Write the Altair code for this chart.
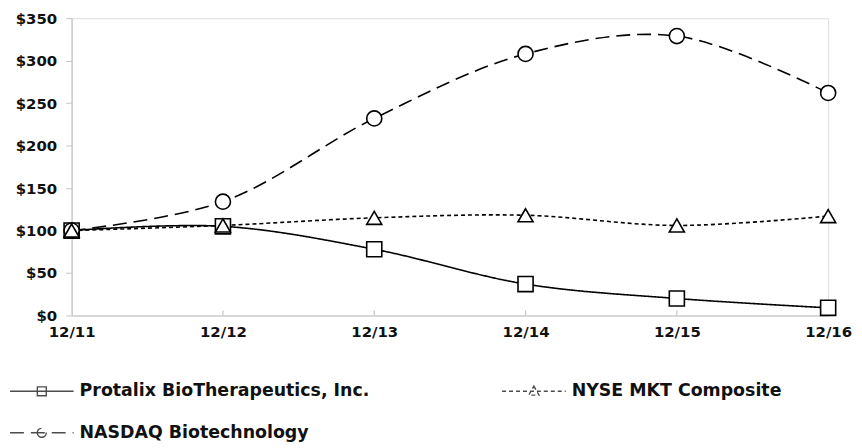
import altair as alt
import pandas as pd

periods = ["12/11", "12/12", "12/13", "12/14", "12/15", "12/16"]
series_names = ["Protalix BioTherapeutics, Inc.", "NASDAQ Biotechnology", "NYSE MKT Composite"]
protalix = [100, 105, 78, 37, 20, 9]
nasdaq = [100, 134, 232, 308, 329, 262]
nyse = [100, 106, 115, 118, 106, 117]
y_ticks = [0, 50, 100, 150, 200, 250, 300, 350]

rows = []
for name, vals in zip(series_names, [protalix, nasdaq, nyse]):
    for p, v in zip(periods, vals):
        rows.append({"period": p, "series": name, "value": v})
df = pd.DataFrame(rows)
tick_df = pd.DataFrame({"period": periods[1:]})

FONT = "DejaVu Sans"
AXIS_GRAY = "#c4c4c4"

x_scale = alt.Scale(type="point", padding=0, domain=periods)
y_scale = alt.Scale(domain=[0, 350], nice=False)

x_enc = alt.X("period:O", sort=periods, title=None, scale=x_scale,
              axis=alt.Axis(labelAngle=0, labelFont=FONT, labelFontWeight="bold",
                            labelFontSize=15, labelColor="#111", labelPadding=9,
                            domainColor=AXIS_GRAY, domainWidth=1.2, ticks=False,
                            grid=False))
y_enc = alt.Y("value:Q", title=None, scale=y_scale,
              axis=alt.Axis(values=y_ticks, format="$,.0f",
                            labelFont=FONT, labelFontWeight="bold", labelFontSize=15,
                            labelColor="#111", labelPadding=9,
                            domainColor=AXIS_GRAY, domainWidth=1.2,
                            tickColor=AXIS_GRAY, tickSize=6,
                            grid=False))

# order: Protalix, NASDAQ, NYSE
dash_range = [[1, 0], [14, 7], [4, 3]]
shape_range = ["square", "circle", "triangle-up"]
p_sq = "M-1,0H1M-0.14,-0.14H0.14V0.14H-0.14Z"
p_tri = "M-1,0H1M0,-0.16L0.16,0.12H-0.16Z"
p_cir = "M-1,0H1M-0.14,0A0.14,0.14 0 1,0 0.14,0A0.14,0.14 0 1,0 -0.14,0"
legend_paths = [p_sq, p_cir, p_tri]

lines = alt.Chart(df).mark_line(interpolate="catmull-rom", color="black", strokeWidth=1.6).encode(
    x=x_enc, y=y_enc,
    strokeDash=alt.StrokeDash("series:N",
        scale=alt.Scale(domain=series_names, range=dash_range), legend=None),
)

points = alt.Chart(df).mark_point(filled=False, fill="white", color="black",
                                  strokeWidth=1.6, size=230, opacity=1).encode(
    x=x_enc, y=y_enc,
    shape=alt.Shape("series:N",
        scale=alt.Scale(domain=series_names, range=shape_range), legend=None),
)

xticks = alt.Chart(tick_df).mark_rule(color=AXIS_GRAY, strokeWidth=1.2).encode(
    x=x_enc, y=alt.datum(0), y2=alt.datum(6),
)

leg = alt.Legend(title=None, orient="none", legendX=-63, legendY=342,
                 columns=2, columnPadding=130, rowPadding=-22, padding=0,
                 labelFont=FONT, labelFontWeight="bold", labelFontSize=17.5,
                 labelColor="#111", labelOffset=5, labelLimit=0,
                 symbolSize=4096, symbolStrokeColor="black", symbolStrokeWidth=1.4)

legend_layer = alt.Chart(df).transform_filter("false").mark_point(
    filled=False, color="black", strokeWidth=1.4).encode(
    shape=alt.Shape("series:N",
        scale=alt.Scale(domain=series_names, range=legend_paths), legend=leg),
    strokeDash=alt.StrokeDash("series:N",
        scale=alt.Scale(domain=series_names, range=dash_range), legend=leg),
)

chart = alt.layer(xticks, lines, points, legend_layer).resolve_scale(
    shape="independent", strokeDash="independent"
).properties(
    width=761, height=299,
    autosize=alt.AutoSizeParams(type="none"),
    padding={"left": 64, "top": 9, "right": 26, "bottom": 130},
).configure_view(stroke=None).configure(background="white")

chart.save("out.html", embed_options={"renderer": "svg", "actions": False})
